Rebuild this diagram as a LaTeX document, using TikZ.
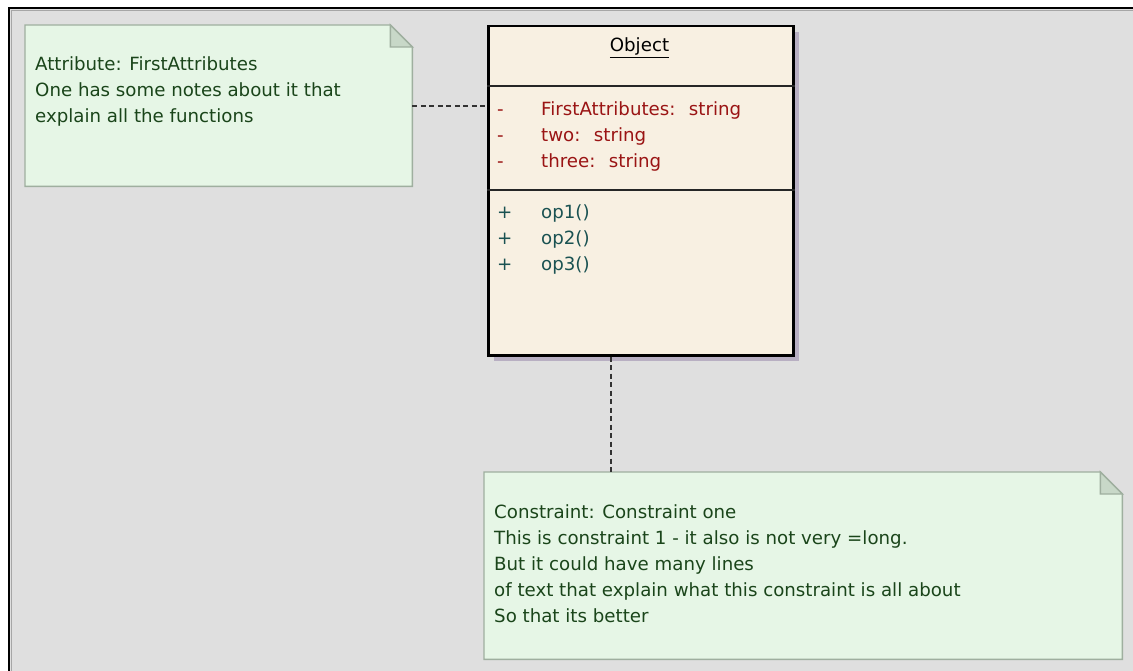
\documentclass[tikz,border=0pt]{standalone}
\usepackage{fontspec}
\setmainfont{DejaVu Sans}
\usetikzlibrary{shadows}
\definecolor{canvasgray}{HTML}{DFDFDF}
\definecolor{notefill}{HTML}{E6F6E6}
\definecolor{notedraw}{HTML}{9FAF9F}
\definecolor{notefold}{HTML}{C8D8C8}
\definecolor{notetext}{HTML}{1A451A}
\definecolor{classfill}{HTML}{F8F0E2}
\definecolor{classshadow}{HTML}{B8AFC2}
\definecolor{attrred}{HTML}{9A1414}
\definecolor{opteal}{HTML}{1A5252}
\begin{document}
\begin{tikzpicture}[x=1pt, y=-1pt,
    txt/.style={inner sep=0pt, anchor=base west, font=\fontsize{18.2}{21}\selectfont},
    notetxt/.style={txt, text=notetext},
    boxat/.style={anchor=north west, inner sep=0pt},
    noteline/.style={draw=black!80, line width=2pt, dash pattern=on 5pt off 3.5pt},
    classline/.style={draw=black!85, line width=2.2pt}]
    \useasboundingbox (0,0) rectangle (1133,671);
    \fill[white] (0,0) rectangle (1133,671);
    \fill[canvasgray] (9,8) rectangle (1133,671);
    \draw[black, line width=2pt] (9,671) -- (9,8) -- (1133,8);
    \draw[gray!70, line width=1pt] (11.5,671) -- (11.5,10.5) -- (1133,10.5);

    % notes
    \node[boxat, minimum width=387pt, minimum height=161pt] (attrnote) at (25,25) {};
    \node[boxat, minimum width=638pt, minimum height=187pt] (connote) at (484,472) {};
    \foreach \n in {attrnote, connote} {
        \filldraw[fill=notefill, draw=notedraw, line width=1.4pt] (\n.south west) -- (\n.north west) -- ([xshift=-22pt]\n.north east) -- ([yshift=-22pt]\n.north east) -- (\n.south east) -- cycle;
        \filldraw[fill=notefold, draw=notedraw, line width=1.4pt] ([xshift=-22pt]\n.north east) -- ([xshift=-22pt, yshift=-22pt]\n.north east) -- ([yshift=-22pt]\n.north east) -- cycle;
    }
    \foreach \t [count=\i from 0] in {Attribute: FirstAttributes, One has some notes about it that, explain all the functions}
        \node[notetxt] (attrline-\i) at (35,71+26*\i) {\t};
    \foreach \t [count=\i from 0] in {Constraint: Constraint one, This is constraint 1 - it also is not very =long., But it could have many lines, of text that explain what this constraint is all about, So that its better}
        \node[notetxt] (conline-\i) at (494,518+26*\i) {\t};

    % class
    \node[boxat, minimum width=305pt, minimum height=329pt, fill=classfill, draw=black, line width=2.5pt,
        drop shadow={shadow xshift=6pt, shadow yshift=-6pt, fill=classshadow, opacity=1}] (object) at (487,25) {};
    \draw[classline] ([yshift=-61pt]object.north west) -- ([yshift=-61pt]object.north east);
    \draw[classline] ([yshift=-165pt]object.north west) -- ([yshift=-165pt]object.north east);
    \node[txt, anchor=base] (objtitle) at (639.5,52) {\underline{Object}};
    \foreach \a [count=\i from 0] in {FirstAttributes, two, three} {
        \node[txt, text=attrred] (attrvis-\i) at (497,116+26*\i) {-};
        \node[txt, text=attrred] (attr-\i) at (541,116+26*\i) {\a:~ string};
    }
    \foreach \i in {1,2,3} {
        \node[txt, text=opteal] (opvis-\i) at (497,193+26*\i) {+};
        \node[txt, text=opteal] (op-\i) at (541,193+26*\i) {op\i()};
    }

    % links
    \draw[noteline] (attrnote.east) -- (attrnote.east -| object.west);
    \coordinate (tether) at (611,0);
    \draw[noteline] (object.south -| tether) -- (connote.north -| tether);
\end{tikzpicture}
\end{document}
